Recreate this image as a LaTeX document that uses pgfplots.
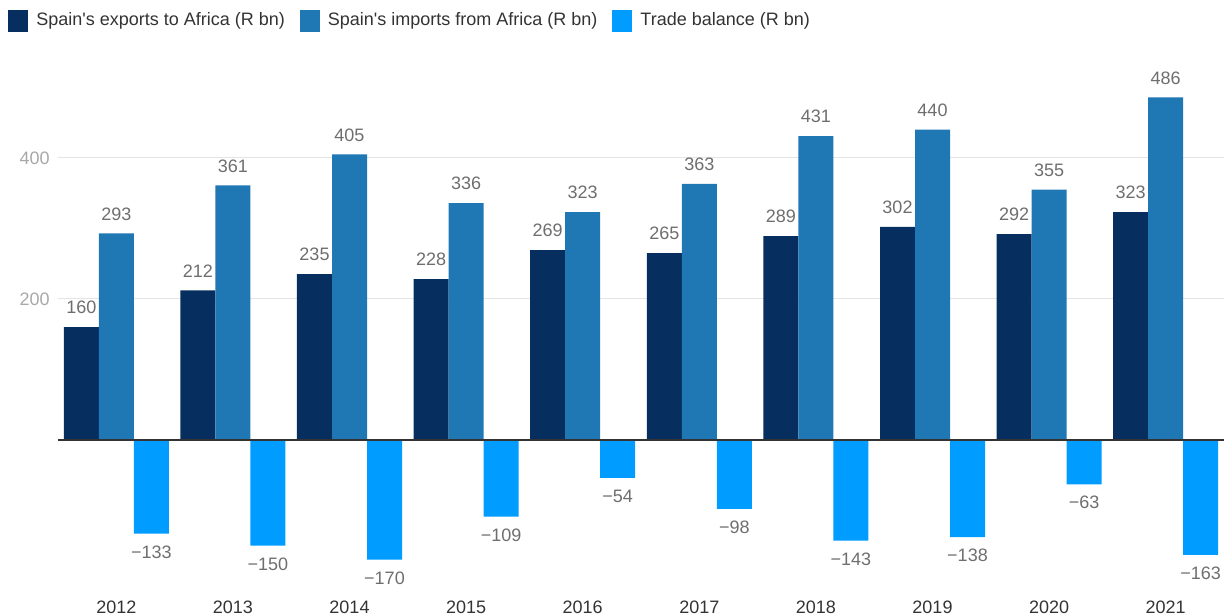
\documentclass[border=0pt]{standalone}
\usepackage{pgfplots}
\pgfplotsset{compat=1.18}
\usepackage{fontspec}
\setmainfont{Liberation Sans}
\definecolor{cExp}{HTML}{062F5F}
\definecolor{cImp}{HTML}{1F77B4}
\definecolor{cBal}{HTML}{009CFF}
\definecolor{cLab}{HTML}{6E6E6E}
\definecolor{cTick}{HTML}{A8A8A8}
\definecolor{cTxt}{HTML}{333333}
\definecolor{cGrid}{HTML}{E4E4E4}
\begin{document}
\begin{tikzpicture}
\begin{axis}[
  name=ax,
  scale only axis,
  width=583pt, height=253.8pt,
  xmin=-0.5, xmax=9.5,
  ymin=-220, ymax=500,
  ybar=0pt, bar width=17.5pt,
  axis line style={draw=none},
  major tick length=0pt,
  xtick={0,...,9},
  xticklabels={2012,2013,2014,2015,2016,2017,2018,2019,2020,2021},
  ytick={200,400},
  ymajorgrids,
  grid style={cGrid, line width=0.6pt},
  /pgf/number format/assume math mode=true,
  /pgf/number format/1000 sep={},
  xticklabel style={font=\fontsize{9}{11}\selectfont, text=cTxt, inner sep=0pt, yshift=-2.7pt},
  yticklabel style={font=\fontsize{9}{11}\selectfont, text=cTick, inner sep=0pt, xshift=-4pt},
  every node near coord/.append style={font=\fontsize{9}{11}\selectfont, text=cLab},
  legend style={at={(-0.0429,1.131)}, anchor=west, draw=none, fill=none, inner sep=0pt,
    legend columns=-1,
    nodes={inner sep=0pt, font=\fontsize{9}{11}\selectfont, text=cTxt},
    /tikz/every odd column/.style={column sep=4pt},
    /tikz/every even column/.style={column sep=7.5pt}},
  legend image code/.code={\fill[#1] (0pt,-5.5pt) rectangle (10pt,5.5pt);},
  legend cell align=left,
]
\addplot[fill=cExp, draw=none, nodes near coords, every node near coord/.append style={anchor=south, yshift=3pt}]
  coordinates {(0,160) (1,212) (2,235) (3,228) (4,269) (5,265) (6,289) (7,302) (8,292) (9,323)};
\addlegendentry{Spain\textquotesingle s exports to Africa (R bn)}
\addplot[fill=cImp, draw=none, nodes near coords, every node near coord/.append style={anchor=south, yshift=3pt}]
  coordinates {(0,293) (1,361) (2,405) (3,336) (4,323) (5,363) (6,431) (7,440) (8,355) (9,486)};
\addlegendentry{Spain\textquotesingle s imports from Africa (R bn)}
\addplot[fill=cBal, draw=none, point meta=explicit symbolic, nodes near coords, every node near coord/.append style={anchor=north, yshift=-2.5pt}]
  coordinates {(0,-133) [−133] (1,-150) [−150] (2,-170) [−170] (3,-109) [−109] (4,-54) [−54]
               (5,-98) [−98] (6,-143) [−143] (7,-138) [−138] (8,-63) [−63] (9,-163) [−163]};
\addlegendentry{Trade balance (R bn)}
\draw[cTxt, line width=1pt] (axis cs:-0.5,0) -- (axis cs:9.5,0);
\end{axis}
\pgfresetboundingbox
\path[use as bounding box] ([xshift=-29pt,yshift=-10.5pt]ax.south west) rectangle ([yshift=43.7pt]ax.north east);
\end{tikzpicture}
\end{document}
